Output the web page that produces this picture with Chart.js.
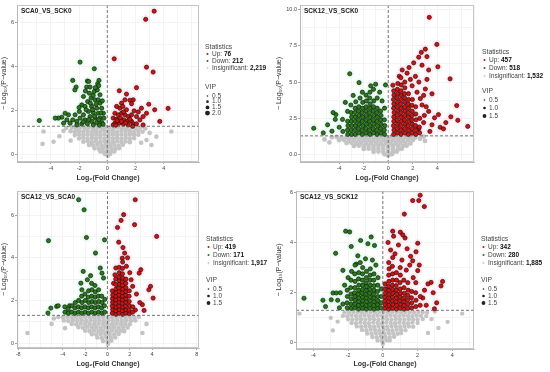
<!DOCTYPE html>
<html lang="en">
<head>
<meta charset="UTF-8" />
<title>Volcano plots</title>
<script src="https://cdn.jsdelivr.net/npm/chart.js"></script>
<style>
  * { margin: 0; padding: 0; box-sizing: border-box; }
  body {
    width: 550px; height: 372px; background: #fff;
    position: relative; overflow: hidden;
  }
  canvas { position: absolute; }
</style>
</head>
<body>
<script>
// ---- data -------------------------------------------------------------
const comparisons = ['SCA0_VS_SCK0', 'SCK12_VS_SCK0', 'SCA12_VS_SCA0', 'SCA12_VS_SCK12'];
const upCounts = [76, 457, 419, 342];
const downCounts = [212, 518, 171, 280];
const nsCounts = [2219, 1532, 1917, 1885];
const vipLevels = [[0.5, 1.0, 1.5, 2.0], [0.5, 1.0, 1.5], [0.5, 1.0, 1.5], [0.5, 1.0, 1.5]];
const pCut = 1.3; // -log10(0.05)
const xTickLabels = [[-4, -2, 0, 2, 4], [-4, -2, 0, 2, 4], [-8, -4, -2, 0, 2, 4, 8], [-4, -2, 0, 2, 4]];
const yTickLabels = [[0, 2, 4, 6], [0, 2.5, 5, 7.5, 10], [0, 2, 4, 6], [0, 2, 4, 6]];

// [log2FC, -log10 p]
const p1Up = [[3.32,6.52],[2.72,6.15],[0.49,4.36],[2.78,3.98],[3.25,3.76],[2.07,3.05],[0.85,2.91],[1.36,2.76],[1.84,2.5],[1.25,2.5],[1.6,2.48],[1.72,2.32],[1.01,2.35],[2.42,2.12],[2.94,2.3],[3.36,2.05],[4.31,2.11],[2.78,1.89],[2.54,1.74],[3.72,1.52],[2.07,1.74],[2.31,1.59],[1.72,1.82],[1.36,2.05],[0.89,2.12],[0.66,2.2],[0.54,1.89],[0.78,1.82],[1.01,1.89],[1.25,1.82],[1.48,1.74],[0.42,1.67],[0.66,1.62],[0.94,1.67],[1.18,1.59],[1.41,1.52],[1.72,1.52],[0.54,1.44],[0.85,1.44],[1.13,1.41],[1.48,1.36],[1.84,1.41],[2.07,1.41],[0.42,1.36],[2.54,1.36],[1.15,1.95],[1.9,2.0],[0.7,1.55],[1.6,1.62],[1.0,1.52],[1.3,1.45],[0.6,1.35],[1.8,1.3],[2.2,1.95],[1.1,2.2]];
const p1Down = [[-1.93,4.21],[-0.92,3.91],[-2.45,3.38],[-1.41,3.35],[-1.32,3.33],[-0.59,3.38],[-2.21,3.08],[-2.3,2.95],[-0.68,3.23],[-0.61,3.14],[-1.46,3.08],[-1.22,3.08],[-1.27,2.8],[-0.92,2.88],[-0.71,2.95],[-0.52,2.73],[-1.15,2.58],[-0.87,2.5],[-0.64,2.5],[-0.52,2.35],[-1.39,2.42],[-1.69,2.65],[-1.81,2.27],[-1.58,2.2],[-1.11,2.2],[-0.75,2.12],[-0.4,2.12],[-1.34,1.97],[-0.99,1.92],[-0.64,1.89],[-0.28,1.89],[-1.98,1.97],[-2.28,1.82],[-1.69,1.82],[-1.22,1.74],[-0.87,1.67],[-0.52,1.67],[-0.24,1.67],[-1.93,1.67],[-1.58,1.59],[-1.11,1.52],[-0.75,1.47],[-0.4,1.47],[-1.41,1.41],[-1.81,1.41],[-2.16,1.52],[-2.45,1.59],[-2.75,1.82],[-2.99,1.89],[-3.22,1.71],[-3.46,1.67],[-3.69,1.67],[-2.87,1.59],[-2.64,1.44],[-3.1,1.44],[-2.16,1.36],[-0.99,1.36],[-0.56,1.35],[-4.82,1.56],[-1.0,2.7],[-0.8,2.3],[-1.05,2.05],[-0.45,1.9],[-1.5,2.05],[-1.2,2.35],[-0.35,2.45],[-0.9,1.75],[-0.6,1.6],[-1.3,1.6],[-2.0,2.15],[-1.7,1.5],[-0.3,1.4],[-0.85,3.05],[-1.55,2.9]];
const p1Ns = [[-2.9,1.22],[-2.5,1.25],[-2.2,1.2],[-1.9,1.26],[-1.6,1.22],[-1.3,1.25],[-1.0,1.2],[-0.7,1.24],[-0.4,1.21],[-0.15,1.26],[0.15,1.23],[0.45,1.2],[0.75,1.25],[1.05,1.22],[1.35,1.2],[1.7,1.25],[2.0,1.21],[2.35,1.24],[2.7,1.2],
  [-2.6,1.08],[-2.3,1.05],[-2.0,1.1],[-1.7,1.06],[-1.4,1.09],[-1.1,1.04],[-0.8,1.08],[-0.5,1.05],[-0.2,1.1],[0.1,1.06],[0.4,1.08],[0.7,1.04],[1.0,1.1],[1.3,1.06],[1.6,1.08],[1.9,1.04],[2.2,1.09],[2.5,1.05],
  [-2.3,0.9],[-2.0,0.94],[-1.7,0.9],[-1.4,0.93],[-1.1,0.9],[-0.8,0.94],[-0.5,0.91],[-0.2,0.93],[0.1,0.9],[0.4,0.94],[0.7,0.91],[1.0,0.93],[1.3,0.9],[1.6,0.94],[1.9,0.91],[2.2,0.92],
  [-2.0,0.75],[-1.7,0.78],[-1.4,0.74],[-1.1,0.77],[-0.8,0.75],[-0.5,0.78],[-0.2,0.74],[0.1,0.77],[0.4,0.75],[0.7,0.78],[1.0,0.74],[1.3,0.77],[1.6,0.75],[1.9,0.76],
  [-1.7,0.6],[-1.4,0.62],[-1.1,0.58],[-0.8,0.61],[-0.5,0.59],[-0.2,0.62],[0.1,0.6],[0.4,0.58],[0.7,0.62],[1.0,0.59],[1.3,0.61],[1.6,0.58],
  [-1.3,0.45],[-1.0,0.43],[-0.7,0.46],[-0.4,0.44],[-0.1,0.46],[0.2,0.44],[0.5,0.45],[0.8,0.43],[1.1,0.46],
  [-0.9,0.3],[-0.6,0.28],[-0.3,0.31],[0.0,0.29],[0.3,0.3],[0.6,0.28],[0.85,0.31],
  [-0.5,0.16],[-0.25,0.13],[0.0,0.15],[0.25,0.14],[0.5,0.16],[-0.15,0.03],[0.05,-0.02],[0.2,0.04],
  [-4.52,1.06],[-4.59,0.5],[-3.81,0.6],[-3.1,1.1],[-3.4,0.85],[3.13,0.45],[4.54,1.06],[3.48,0.83],[2.78,0.68],[3.0,1.0],[-2.6,0.65],[2.4,0.55]];

const p2Up = [[3.35,9.45],[3.97,7.59],[3.03,7.26],[2.7,7.04],[3.16,6.75],[2.49,6.71],[4.05,6.05],[5.05,5.22],[2.08,6.32],[2.76,6.16],[3.3,5.83],[3.16,5.18],[3.03,4.52],[3.57,4.19],[5.59,3.38],[5.11,2.61],[5.68,2.37],[6.49,1.95],[4.7,2.21],[4.24,1.89],[3.78,2.54],[3.3,2.98],[2.76,3.42],[4.51,1.78],[3.57,2.06],[2.89,2.21],[2.49,1.78],[4.1,2.76],[1.14,5.83],[1.54,5.61],[1.81,5.18],[0.38,4.78],[2.22,5.39],[1.95,4.74],[2.35,4.3],[2.62,3.86],[2.89,4.08],[1.7,6.0],[0.9,5.4],[2.5,5.0],[3.1,3.3],[3.4,1.6],[2.95,2.7],
  [0.44,1.4],[0.47,1.7],[0.43,2.0],[0.46,2.3],[0.45,2.6],[0.48,2.9],[0.44,3.2],[0.46,3.5],[0.43,3.8],[0.47,4.1],[0.45,4.4],
  [0.76,1.5],[0.74,1.8],[0.77,2.1],[0.73,2.4],[0.75,2.7],[0.78,3.0],[0.74,3.3],[0.76,3.6],[0.73,3.9],[0.77,4.2],[0.75,4.5],[0.78,4.9],
  [1.04,1.4],[1.06,1.7],[1.03,2.0],[1.07,2.3],[1.05,2.6],[1.04,2.9],[1.06,3.2],[1.03,3.5],[1.07,3.8],[1.05,4.1],[1.04,4.4],[1.06,4.8],[1.03,5.3],
  [1.36,1.5],[1.34,1.8],[1.37,2.1],[1.33,2.4],[1.35,2.7],[1.36,3.0],[1.34,3.3],[1.37,3.6],[1.35,3.9],[1.33,4.2],[1.36,4.6],[1.35,5.0],
  [1.64,1.4],[1.66,1.7],[1.63,2.0],[1.67,2.3],[1.65,2.6],[1.64,2.9],[1.66,3.2],[1.63,3.5],[1.67,3.8],[1.65,4.2],
  [1.96,1.5],[1.94,1.8],[1.97,2.1],[1.93,2.4],[1.95,2.7],[1.96,3.0],[1.94,3.4],[1.97,3.8],
  [2.24,1.4],[2.26,1.7],[2.23,2.0],[2.27,2.4],[2.25,2.8],[2.24,3.3],
  [2.56,1.5],[2.54,1.9],[2.57,2.5]];
const p2Down = [[-3.14,5.57],[-2.38,4.96],[-1.03,4.85],[-0.22,4.8],[-4.27,2.76],[-4.32,2.43],[-4.95,2.06],[-6.08,1.82],[-4.59,1.62],[-4.0,1.89],[-3.73,2.43],[-3.32,2.98],[-3.05,3.42],[-2.65,3.64],[-2.86,4.08],[-2.11,4.3],[-1.43,4.74],[-0.7,4.3],[-0.5,3.7],[-3.7,1.6],[-5.3,1.5],[-4.5,2.9],[-3.5,3.6],[-2.3,3.9],[-0.9,3.9],[-1.2,4.5],[-0.3,3.2],
  [-3.3,1.4],[-3.32,1.7],[-3.28,2.0],[-3.31,2.3],
  [-3.0,1.4],[-3.02,1.7],[-2.98,2.0],[-3.01,2.3],[-2.99,2.6],[-3.02,2.9],
  [-2.7,1.4],[-2.72,1.7],[-2.68,2.0],[-2.71,2.3],[-2.69,2.6],[-2.72,2.9],[-2.7,3.2],
  [-2.4,1.5],[-2.42,1.8],[-2.38,2.1],[-2.41,2.4],[-2.39,2.7],[-2.42,3.0],[-2.4,3.3],
  [-2.1,1.4],[-2.12,1.7],[-2.08,2.0],[-2.11,2.3],[-2.09,2.6],[-2.12,2.9],[-2.1,3.2],[-2.08,3.6],
  [-1.8,1.5],[-1.82,1.8],[-1.78,2.1],[-1.81,2.4],[-1.79,2.7],[-1.82,3.0],[-1.8,3.3],[-1.78,3.7],[-1.81,4.1],
  [-1.5,1.4],[-1.52,1.7],[-1.48,2.0],[-1.51,2.3],[-1.49,2.6],[-1.52,2.9],[-1.5,3.2],[-1.48,3.5],[-1.51,3.9],[-1.49,4.3],
  [-1.2,1.5],[-1.22,1.8],[-1.18,2.1],[-1.21,2.4],[-1.19,2.7],[-1.22,3.0],[-1.2,3.3],[-1.18,3.7],
  [-0.9,1.4],[-0.92,1.7],[-0.88,2.0],[-0.91,2.3],[-0.89,2.6],[-0.92,2.9],[-0.9,3.2],
  [-0.6,1.5],[-0.62,1.8],[-0.58,2.1],[-0.61,2.4],[-0.59,2.7],[-0.62,3.0],
  [-0.3,1.4],[-0.32,1.7],[-0.28,2.0],[-0.31,2.4]];
const p2Ns = [[-4.6,1.2],[-4.2,1.22],[-3.8,1.18],[-3.4,1.21],[-3.0,1.19],[-2.6,1.22],[-2.2,1.2],[-1.8,1.18],[-1.4,1.21],[-1.0,1.2],[-0.6,1.22],[-0.2,1.18],[0.2,1.21],[0.6,1.2],[1.0,1.19],[1.4,1.22],[1.8,1.2],[2.2,1.18],
  [-4.0,1.0],[-3.6,1.02],[-3.2,0.98],[-2.8,1.01],[-2.4,0.99],[-2.0,1.02],[-1.6,1.0],[-1.2,0.98],[-0.8,1.01],[-0.4,1.0],[0.0,0.99],[0.4,1.02],[0.8,1.0],[1.2,0.98],[1.6,1.01],[2.0,1.0],
  [-3.4,0.8],[-3.0,0.82],[-2.6,0.78],[-2.2,0.81],[-1.8,0.79],[-1.4,0.82],[-1.0,0.8],[-0.6,0.78],[-0.2,0.81],[0.2,0.8],[0.6,0.79],[1.0,0.82],[1.4,0.8],[1.8,0.78],
  [-2.8,0.6],[-2.4,0.62],[-2.0,0.58],[-1.6,0.61],[-1.2,0.59],[-0.8,0.62],[-0.4,0.6],[0.0,0.58],[0.4,0.61],[0.8,0.6],[1.2,0.59],[1.5,0.62],
  [-2.0,0.4],[-1.6,0.42],[-1.2,0.38],[-0.8,0.41],[-0.4,0.39],[0.0,0.42],[0.4,0.4],[0.8,0.38],[1.1,0.41],
  [-1.2,0.2],[-0.8,0.22],[-0.4,0.18],[0.0,0.21],[0.4,0.19],[0.7,0.22],
  [-0.3,0.03],[0.0,-0.05],[0.3,0.04],
  [2.6,1.1],[3.0,0.95],[-5.2,1.05],[2.9,1.25],[-4.8,0.85]];

const p3Up = [[2.49,6.72],[1.45,6.02],[1.22,5.75],[0.9,5.42],[2.43,5.55],[4.41,5.0],[1.01,4.73],[1.39,4.48],[1.54,4.22],[1.33,3.98],[2.99,3.44],[2.84,3.28],[3.86,2.66],[3.71,2.5],[4.09,2.11],[3.13,1.8],[3.28,1.53],[2.26,2.66],[2.12,2.97],[0.75,3.52],[0.67,3.2],[1.7,3.6],[2.0,3.3],[2.6,2.3],[2.9,1.9],[2.5,1.55],[1.8,4.0],[0.55,2.8],
  [0.44,1.4],[0.47,1.57],[0.43,1.74],[0.46,1.91],[0.45,2.08],[0.47,2.25],[0.44,2.45],
  [0.76,1.35],[0.74,1.52],[0.77,1.69],[0.73,1.86],[0.75,2.03],[0.76,2.2],[0.74,2.37],[0.77,2.54],[0.75,2.75],[0.74,3.0],
  [1.04,1.4],[1.06,1.57],[1.03,1.74],[1.07,1.91],[1.05,2.08],[1.04,2.25],[1.06,2.42],[1.03,2.59],[1.07,2.76],[1.05,2.93],[1.04,3.1],[1.06,3.3],[1.05,3.55],
  [1.36,1.35],[1.34,1.52],[1.37,1.69],[1.33,1.86],[1.35,2.03],[1.36,2.2],[1.34,2.37],[1.37,2.54],[1.35,2.71],[1.33,2.88],[1.36,3.05],[1.35,3.25],[1.34,3.5],[1.36,3.8],
  [1.64,1.4],[1.66,1.57],[1.63,1.74],[1.67,1.91],[1.65,2.08],[1.64,2.25],[1.66,2.42],[1.65,2.6],[1.64,2.8],[1.66,3.0],
  [1.96,1.38],[1.94,1.55],[1.97,1.75],[1.95,1.95],[1.94,2.2],[1.96,2.45],
  [2.25,1.45],[2.27,1.7]];
const p3Down = [[-2.58,6.72],[-2.09,6.25],[-1.88,4.95],[-5.28,4.8],[-0.26,4.84],[-1.07,4.22],[-2.17,3.36],[-0.64,3.52],[-0.49,3.28],[-1.51,3.16],[-1.8,2.97],[-0.35,3.05],[-2.38,2.81],[-5.07,1.64],[-5.33,1.41],[-4.55,1.72],[-4.41,1.75],[-3.39,1.75],
  [-3.8,1.45],[-3.82,1.7],[-3.5,1.4],[-3.52,1.6],[-3.2,1.45],[-3.18,1.75],
  [-2.9,1.4],[-2.92,1.65],[-2.88,1.9],[-2.6,1.45],[-2.62,1.7],[-2.58,2.0],
  [-2.3,1.4],[-2.32,1.65],[-2.28,1.9],[-2.31,2.2],[-2.29,2.5],
  [-2.0,1.45],[-2.02,1.7],[-1.98,2.0],[-2.01,2.3],
  [-1.7,1.4],[-1.72,1.65],[-1.68,1.9],[-1.71,2.15],[-1.69,2.45],
  [-1.4,1.45],[-1.42,1.7],[-1.38,1.95],[-1.41,2.2],[-1.39,2.5],[-1.42,2.8],
  [-1.1,1.4],[-1.12,1.65],[-1.08,1.9],[-1.11,2.15],[-1.09,2.4],[-1.12,2.7],
  [-0.8,1.45],[-0.82,1.7],[-0.78,1.95],[-0.81,2.2],[-0.79,2.5],
  [-0.5,1.4],[-0.52,1.65],[-0.48,1.9],[-0.51,2.2],
  [-0.25,1.45],[-0.27,1.75],[-0.23,2.05]];
const p3Ns = [[-4.4,1.22],[-4.0,1.2],[-3.6,1.23],[-3.2,1.21],[-2.8,1.22],[-2.4,1.2],[-2.0,1.23],[-1.6,1.21],[-1.2,1.22],[-0.8,1.2],[-0.4,1.23],[0.0,1.21],[0.4,1.22],[0.8,1.2],[1.2,1.23],[1.6,1.21],[2.0,1.22],[2.4,1.2],[2.8,1.23],
  [-3.9,1.06],[-3.5,1.04],[-3.1,1.07],[-2.7,1.05],[-2.3,1.06],[-1.9,1.04],[-1.5,1.07],[-1.1,1.05],[-0.7,1.06],[-0.3,1.04],[0.1,1.07],[0.5,1.05],[0.9,1.06],[1.3,1.04],[1.7,1.07],[2.1,1.05],[2.5,1.06],
  [-3.2,0.9],[-2.8,0.88],[-2.4,0.91],[-2.0,0.89],[-1.6,0.9],[-1.2,0.88],[-0.8,0.91],[-0.4,0.89],[0.0,0.9],[0.4,0.88],[0.8,0.91],[1.2,0.89],[1.6,0.9],[2.0,0.88],
  [-2.6,0.74],[-2.2,0.72],[-1.8,0.75],[-1.4,0.73],[-1.0,0.74],[-0.6,0.72],[-0.2,0.75],[0.2,0.73],[0.6,0.74],[1.0,0.72],[1.4,0.75],[1.8,0.73],
  [-2.0,0.58],[-1.6,0.56],[-1.2,0.59],[-0.8,0.57],[-0.4,0.58],[0.0,0.56],[0.4,0.59],[0.8,0.57],[1.2,0.58],[1.5,0.56],
  [-1.4,0.42],[-1.0,0.4],[-0.6,0.43],[-0.2,0.41],[0.2,0.42],[0.6,0.4],[1.0,0.43],
  [-0.9,0.26],[-0.5,0.24],[-0.1,0.27],[0.3,0.25],[0.7,0.26],
  [-0.4,0.1],[0.0,0.08],[0.35,0.11],[0.05,-0.04],
  [-7.16,0.47],[-5.0,0.9],[-4.8,1.15],[3.13,0.47],[3.5,0.9],[-3.8,0.7]];

const p4Up = [[2.15,5.88],[1.72,5.67],[2.07,5.67],[2.39,5.43],[1.24,5.13],[0.57,4.45],[1.01,4.41],[1.28,4.18],[2.01,3.97],[1.91,3.63],[1.72,3.27],[2.01,2.88],[3.44,2.45],[3.35,2.27],[2.78,2.41],[2.3,1.79],[2.97,1.36],
  [0.45,3.7],[0.7,3.55],[0.9,3.9],[1.1,3.3],[1.35,2.9],[1.55,3.1],[1.75,2.6],[0.3,4.0],[0.62,4.25],[1.15,4.3],[1.4,3.75],[1.6,3.45],[2.1,3.1],[2.4,2.1],[2.6,2.35],[2.9,2.0],[3.1,1.6],[2.5,1.5],[1.9,2.4],
  [0.12,1.38],[0.13,1.53],[0.11,1.68],[0.12,1.83],[0.14,1.98],[0.12,2.15],[0.13,2.35],
  [0.34,1.35],[0.35,1.5],[0.33,1.65],[0.34,1.8],[0.36,1.95],[0.34,2.1],[0.33,2.25],[0.35,2.45],[0.34,2.7],[0.36,2.95],[0.34,3.2],
  [0.56,1.38],[0.57,1.53],[0.55,1.68],[0.56,1.83],[0.58,1.98],[0.56,2.13],[0.55,2.3],[0.57,2.5],[0.56,2.75],[0.55,3.05],[0.57,3.4],
  [0.78,1.35],[0.79,1.5],[0.77,1.65],[0.78,1.8],[0.8,1.95],[0.78,2.1],[0.77,2.28],[0.79,2.5],[0.78,2.8],
  [1.0,1.38],[1.01,1.53],[0.99,1.68],[1.0,1.83],[1.02,1.98],[1.0,2.15],[0.99,2.4],[1.01,2.7],[1.0,3.0],
  [1.22,1.35],[1.23,1.5],[1.21,1.65],[1.22,1.8],[1.24,1.98],[1.22,2.2],[1.21,2.5],
  [1.44,1.38],[1.45,1.55],[1.43,1.72],[1.44,1.9],[1.46,2.1],[1.44,2.4],
  [1.66,1.4],[1.67,1.6],[1.65,1.8],[1.66,2.05],
  [1.9,1.45],[1.91,1.7],[1.89,2.0],
  [2.15,1.5],[2.16,1.85]];
const p4Down = [[-2.14,4.45],[-1.91,4.42],[-1.82,3.84],[-1.28,4.08],[-0.86,3.95],[-0.67,4.22],[-0.48,3.88],[-2.72,3.57],[-4.54,1.78],[-2.97,1.72],[-2.87,1.99],[-2.68,1.99],[-2.3,2.89],[-1.44,3.47],[-1.53,3.14],
  [-2.3,1.55],[-2.5,1.4],[-2.6,1.7],[-2.2,2.3],[-2.0,2.6],[-1.8,2.85],[-1.6,3.1],[-1.3,3.2],[-1.0,3.35],[-0.6,3.3],[-0.4,3.1],[-2.45,2.0],[-3.3,1.45],[-3.45,1.7],
  [-2.05,1.4],[-2.06,1.6],[-2.04,1.85],[-2.05,2.1],
  [-1.83,1.38],[-1.84,1.55],[-1.82,1.75],[-1.83,1.95],[-1.85,2.2],[-1.83,2.5],
  [-1.61,1.4],[-1.62,1.55],[-1.6,1.7],[-1.61,1.85],[-1.63,2.0],[-1.61,2.2],[-1.6,2.45],[-1.62,2.75],
  [-1.39,1.35],[-1.4,1.5],[-1.38,1.65],[-1.39,1.8],[-1.41,1.95],[-1.39,2.1],[-1.38,2.3],[-1.4,2.55],[-1.39,2.8],
  [-1.17,1.38],[-1.18,1.53],[-1.16,1.68],[-1.17,1.83],[-1.19,1.98],[-1.17,2.13],[-1.16,2.3],[-1.18,2.5],[-1.17,2.75],[-1.16,3.0],
  [-0.95,1.35],[-0.96,1.5],[-0.94,1.65],[-0.95,1.8],[-0.97,1.95],[-0.95,2.1],[-0.94,2.25],[-0.96,2.4],[-0.95,2.6],[-0.94,2.85],
  [-0.73,1.38],[-0.74,1.53],[-0.72,1.68],[-0.73,1.83],[-0.75,1.98],[-0.73,2.13],[-0.72,2.3],[-0.74,2.5],[-0.73,2.7],[-0.72,2.95],
  [-0.51,1.35],[-0.52,1.5],[-0.5,1.65],[-0.51,1.8],[-0.53,1.95],[-0.51,2.1],[-0.5,2.28],[-0.52,2.5],[-0.51,2.75],
  [-0.29,1.38],[-0.3,1.53],[-0.28,1.68],[-0.29,1.85],[-0.31,2.05],[-0.29,2.3],[-0.28,2.6],
  [-0.1,1.4],[-0.11,1.6],[-0.09,1.85],[-0.1,2.15]];
const p4Ns = [[-2.2,1.22],[-1.95,1.21],[-1.7,1.23],[-1.45,1.22],[-1.2,1.21],[-0.95,1.23],[-0.7,1.22],[-0.45,1.21],[-0.2,1.23],[0.05,1.22],[0.3,1.21],[0.55,1.23],[0.8,1.22],[1.05,1.21],[1.3,1.23],[1.55,1.22],[1.8,1.21],[2.05,1.23],[2.3,1.22],[2.55,1.21],
  [-2.3,1.08],[-2.05,1.07],[-1.8,1.09],[-1.55,1.08],[-1.3,1.07],[-1.05,1.09],[-0.8,1.08],[-0.55,1.07],[-0.3,1.09],[-0.05,1.08],[0.2,1.07],[0.45,1.09],[0.7,1.08],[0.95,1.07],[1.2,1.09],[1.45,1.08],[1.7,1.07],[1.95,1.09],[2.2,1.08],[2.5,1.07],
  [-2.0,0.94],[-1.75,0.93],[-1.5,0.95],[-1.25,0.94],[-1.0,0.93],[-0.75,0.95],[-0.5,0.94],[-0.25,0.93],[0.0,0.95],[0.25,0.94],[0.5,0.93],[0.75,0.95],[1.0,0.94],[1.25,0.93],[1.5,0.95],[1.75,0.94],[2.0,0.93],[2.3,0.95],
  [-1.8,0.8],[-1.55,0.79],[-1.3,0.81],[-1.05,0.8],[-0.8,0.79],[-0.55,0.81],[-0.3,0.8],[-0.05,0.79],[0.2,0.81],[0.45,0.8],[0.7,0.79],[0.95,0.81],[1.2,0.8],[1.45,0.79],[1.7,0.81],[2.0,0.8],
  [-1.5,0.66],[-1.25,0.65],[-1.0,0.67],[-0.75,0.66],[-0.5,0.65],[-0.25,0.67],[0.0,0.66],[0.25,0.65],[0.5,0.67],[0.75,0.66],[1.0,0.65],[1.25,0.67],[1.5,0.66],[1.75,0.65],
  [-1.2,0.52],[-0.95,0.51],[-0.7,0.53],[-0.45,0.52],[-0.2,0.51],[0.05,0.53],[0.3,0.52],[0.55,0.51],[0.8,0.53],[1.05,0.52],[1.3,0.51],
  [-0.9,0.38],[-0.65,0.37],[-0.4,0.39],[-0.15,0.38],[0.1,0.37],[0.35,0.39],[0.6,0.38],[0.85,0.37],[1.05,0.39],
  [-0.6,0.24],[-0.35,0.23],[-0.1,0.25],[0.15,0.24],[0.4,0.23],[0.65,0.25],
  [-0.3,0.1],[-0.05,0.09],[0.2,0.11],[0.4,0.1],[0.0,-0.03],
  [-4.8,1.17],[4.57,1.17],[-2.88,0.5],[3.73,0.84],[3.2,0.6],[-2.6,0.85],[2.8,0.95],[3.0,1.25],[-3.0,1.0],[2.6,0.4]];

const ups = [p1Up, p2Up, p3Up, p4Up];
const downs = [p1Down, p2Down, p3Down, p4Down];
const nss = [p1Ns, p2Ns, p3Ns, p4Ns];

// ---- layout of the four panels (canvas = 275 x 186 each) --------------
const panels = [
  { left: 0,   top: 0,   yW: 17, xH: 20, xMin: -6.4, xMax: 6.5,  yMin: -0.32, yMax: 6.8,  yStep: 1,    yDec: 0, nsR: 2.3,
    leg: { x: 205, y: 47, gap: 7, vip: 87, vgap: 5.7 } },
  { left: 275, top: 0,   yW: 25, xH: 20, xMin: -7.2, xMax: 7.0,  yMin: -0.5,  yMax: 10.3, yStep: 1.25, yDec: 1, nsR: 2.4,
    leg: { x: 207, y: 52, gap: 8, vip: 91, vgap: 8 } },
  { left: 0,   top: 186, yW: 17, xH: 20, xMin: -8.1, xMax: 8.2,  yMin: -0.23, yMax: 7.13, yStep: 1,    yDec: 0, nsR: 2.3,
    leg: { x: 206, y: 53, gap: 8, vip: 94, vgap: 7 } },
  { left: 275, top: 186, yW: 21, xH: 19, xMin: -5.0, xMax: 5.25, yMin: -0.24, yMax: 6.05, yStep: 1,    yDec: 0, nsR: 2.2,
    leg: { x: 206, y: 53, gap: 8, vip: 94, vgap: 7 } }
];

const FONT = "'Liberation Sans', Arial, sans-serif";
Chart.defaults.font.family = FONT;

const near = (list, v) => list.some(t => Math.abs(t - v) < 1e-6);

// frame + dashed cut-off lines
const frame = {
  id: 'frame',
  afterDatasetsDraw(chart) {
    const { ctx, chartArea: a, scales: { x, y } } = chart;
    ctx.save();
    ctx.strokeStyle = '#555';
    ctx.lineWidth = 0.8;
    ctx.setLineDash([3, 2]);
    const x0 = x.getPixelForValue(0);
    const yc = y.getPixelForValue(pCut);
    ctx.beginPath();
    ctx.moveTo(x0, a.top); ctx.lineTo(x0, a.bottom);
    ctx.moveTo(a.left, yc); ctx.lineTo(a.right, yc);
    ctx.stroke();
    ctx.setLineDash([]);
    ctx.strokeStyle = '#b8b8b8';
    ctx.strokeRect(a.left + 0.5, a.top + 0.5, a.width - 1, a.height - 1);
    ctx.restore();
  }
};

// panel name + legend drawn on the same canvas
const legendBox = {
  id: 'legendBox',
  afterDraw(chart, args, opts) {
    const i = opts.idx;
    const P = panels[i], L = P.leg, a = chart.chartArea;
    const ctx = chart.ctx;
    ctx.save();
    ctx.textBaseline = 'middle';
    ctx.fillStyle = '#222';
    ctx.font = 'bold 6.5px ' + FONT;
    ctx.fillText(comparisons[i], a.left + 4, a.top + 6);

    ctx.font = '6.8px ' + FONT;
    ctx.fillStyle = '#444';
    ctx.fillText('Statistics', L.x, L.y);
    const rows = [
      ['#b01010', 'Up:', upCounts[i]],
      ['#2a6a1c', 'Down:', downCounts[i]],
      ['#cfcfcf', 'Insignificant:', nsCounts[i]]
    ];
    rows.forEach((r, k) => {
      const cy = L.y + L.gap * (k + 1);
      ctx.fillStyle = r[0];
      ctx.beginPath(); ctx.arc(L.x + 2.5, cy, 1, 0, Math.PI * 2); ctx.fill();
      ctx.font = '6.5px ' + FONT;
      ctx.fillStyle = '#444';
      ctx.fillText(r[1], L.x + 7, cy);
      const w = ctx.measureText(r[1] + ' ').width;
      ctx.font = 'bold 6.5px ' + FONT;
      ctx.fillStyle = '#111';
      ctx.fillText(r[2].toLocaleString('en-US'), L.x + 7 + w, cy);
    });
    ctx.font = '6.8px ' + FONT;
    ctx.fillStyle = '#444';
    ctx.fillText('VIP', L.x, L.vip);
    ctx.font = '6.5px ' + FONT;
    vipLevels[i].forEach((v, k) => {
      const cy = L.vip + 9 + L.vgap * k;
      ctx.fillStyle = '#222';
      ctx.beginPath(); ctx.arc(L.x + 2.5, cy, 0.8 + 0.55 * k, 0, Math.PI * 2); ctx.fill();
      ctx.fillStyle = '#444';
      ctx.fillText(v.toFixed(1), L.x + 7, cy);
    });
    ctx.restore();
  }
};

function volcano(i) {
  const P = panels[i];
  const cv = document.createElement('canvas');
  cv.width = 275;
  cv.height = 186;
  cv.style.left = P.left + 'px';
  cv.style.top = P.top + 'px';
  document.body.appendChild(cv);

  const pts = a => a.map(p => ({ x: p[0], y: p[1] }));

  new Chart(cv, {
    type: 'scatter',
    data: {
      datasets: [
        { data: pts(ups[i]), backgroundColor: '#d01414', borderColor: '#2e0808', borderWidth: 0.7, pointRadius: 2.1 },
        { data: pts(downs[i]), backgroundColor: '#2c7a1c', borderColor: '#0c2108', borderWidth: 0.7, pointRadius: 2.1 },
        { data: pts(nss[i]), backgroundColor: '#c4c4c4', borderWidth: 0, pointRadius: P.nsR },
        { data: pts(ups[i]), backgroundColor: 'rgba(255,214,230,0.45)', borderWidth: 0, pointRadius: 4.5 },
        { data: pts(downs[i]), backgroundColor: 'rgba(214,246,232,0.45)', borderWidth: 0, pointRadius: 4.5 }
      ]
    },
    options: {
      responsive: false,
      animation: false,
      layout: { padding: { top: 5, right: 76, left: 0, bottom: 186 - 162 - P.xH - (i === 3 ? 1 : 0) } },
      plugins: { legend: { display: false }, tooltip: { enabled: false }, legendBox: { idx: i } },
      scales: {
        x: {
          type: 'linear', min: P.xMin, max: P.xMax,
          ticks: {
            stepSize: 1, includeBounds: false, autoSkip: false, maxRotation: 0,
            font: { size: 5.5 }, color: '#444', padding: 1,
            callback: v => near(xTickLabels[i], v) ? String(v) : ''
          },
          grid: {
            color: '#ededed', lineWidth: 0.6, tickLength: 2,
            tickColor: c => near(xTickLabels[i], c.tick.value) ? '#666' : 'rgba(0,0,0,0)'
          },
          border: { color: '#b8b8b8' },
          title: {
            display: true, text: 'Log₂(Fold Change)', color: '#333',
            font: { size: 7, weight: 'bold' }, padding: { top: 1, bottom: 0 }
          },
          afterFit: s => { s.height = P.xH; }
        },
        y: {
          type: 'linear', min: P.yMin, max: P.yMax,
          ticks: {
            stepSize: P.yStep, includeBounds: false, autoSkip: false,
            font: { size: 5.5 }, color: '#444', padding: 1,
            callback: v => near(yTickLabels[i], v) ? v.toFixed(P.yDec) : ''
          },
          grid: {
            color: '#ededed', lineWidth: 0.6, tickLength: 2,
            tickColor: c => near(yTickLabels[i], c.tick.value) ? '#666' : 'rgba(0,0,0,0)'
          },
          border: { color: '#b8b8b8' },
          title: {
            display: true, text: '− Log₁₀(P−value)', color: '#333',
            font: { size: 7 }, padding: { top: 0, bottom: 1 }
          },
          afterFit: s => { s.width = P.yW; }
        }
      }
    },
    plugins: [frame, legendBox]
  });
}

for (let i = 0; i < 4; i++) volcano(i);
</script>
</body>
</html>
